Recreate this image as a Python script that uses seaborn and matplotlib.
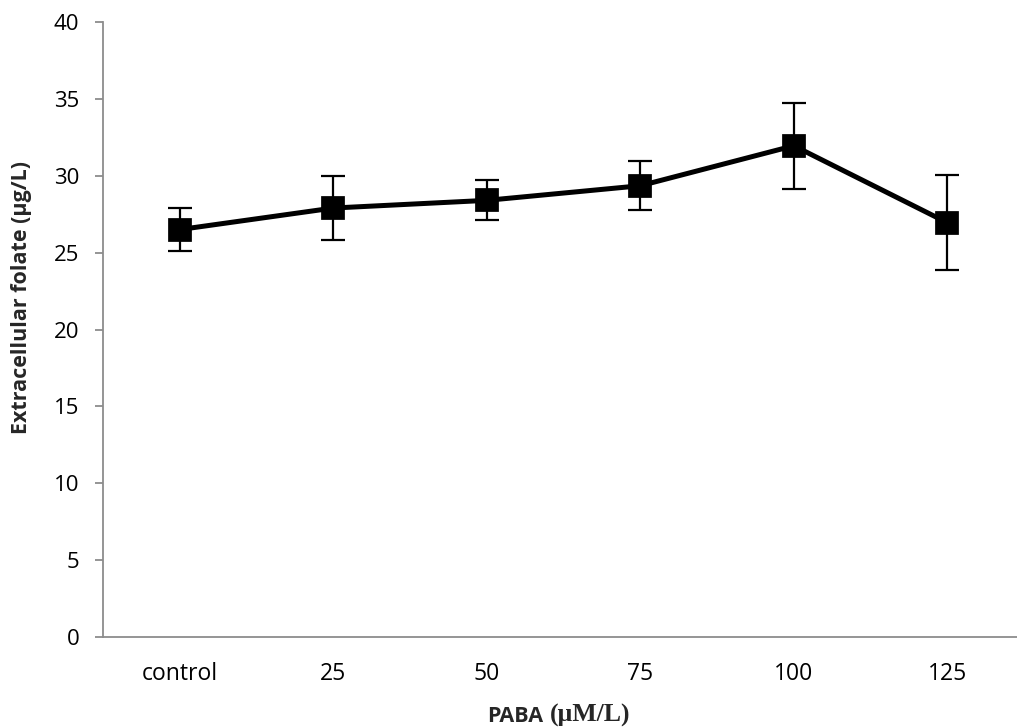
import matplotlib
matplotlib.use("Agg")
import matplotlib.pyplot as plt
import seaborn as sns
import pandas as pd
import numpy as np
from matplotlib.ticker import FixedLocator, MultipleLocator

categories = ["control", "25", "50", "75", "100", "125"]
folate = [26.5, 27.9, 28.4, 29.35, 31.95, 26.95]
err = [1.4, 2.1, 1.3, 1.6, 2.8, 3.1]

sns.set_theme(style="white")
plt.rcParams['font.family'] = ['Open Sans', 'DejaVu Sans']

fig = plt.figure(figsize=(10.17, 7.27), dpi=100)
ax = fig.add_axes([103/1017, 1-637/727, 921/1017, 615/727])

df = pd.DataFrame({"PABA": categories, "folate": folate})
ax.errorbar(np.arange(len(categories)), folate, yerr=err, fmt="none",
            ecolor="black", elinewidth=1.6, capsize=8.5, capthick=1.6, zorder=2)
sns.pointplot(data=df, x="PABA", y="folate", order=categories, errorbar=None,
              color="black", markers="s", linestyles="-", ax=ax,
              markersize=14, linewidth=3.6, zorder=3)

ax.set_xlim(-0.5, len(categories) - 0.5)
ax.set_ylim(0, 40)
ax.yaxis.set_major_locator(MultipleLocator(5))
ax.xaxis.set_minor_locator(FixedLocator(np.arange(-0.5, len(categories), 1.0)))

spine_color = "#8c8c8c"
for s in ["top", "right"]:
    ax.spines[s].set_visible(False)
for s in ["left", "bottom"]:
    ax.spines[s].set_color(spine_color)
    ax.spines[s].set_linewidth(1.3)

ax.tick_params(axis="x", which="major", length=0, pad=18, labelsize=16.5, colors="black")
ax.tick_params(axis="x", which="minor", length=6, width=1.3, color=spine_color, direction="out")
ax.tick_params(axis="y", which="major", length=6, width=1.3, color=spine_color,
               direction="out", labelsize=16, labelcolor="black", pad=11, left=True)

ax.set_xlabel("")
ax.set_ylabel("")
base_y = -(722 - 637) / 615
ax.text((487 - 103) / 921, base_y, "PABA", transform=ax.transAxes,
        ha="left", va="baseline", fontsize=15.5, fontweight="bold", family=["Open Sans"])
ax.text((550 - 103) / 921, base_y, "(μM/L)", transform=ax.transAxes,
        ha="left", va="baseline", fontsize=18.5, fontweight="bold",
        family=["Liberation Serif", "DejaVu Serif"])
fig.text(22 / 1017, 1 - 298 / 727, "Extracellular folate (µg/L)", rotation=90,
         ha="center", va="center", fontsize=15.5, fontweight="bold")

fig.savefig("out.png", dpi=100)
